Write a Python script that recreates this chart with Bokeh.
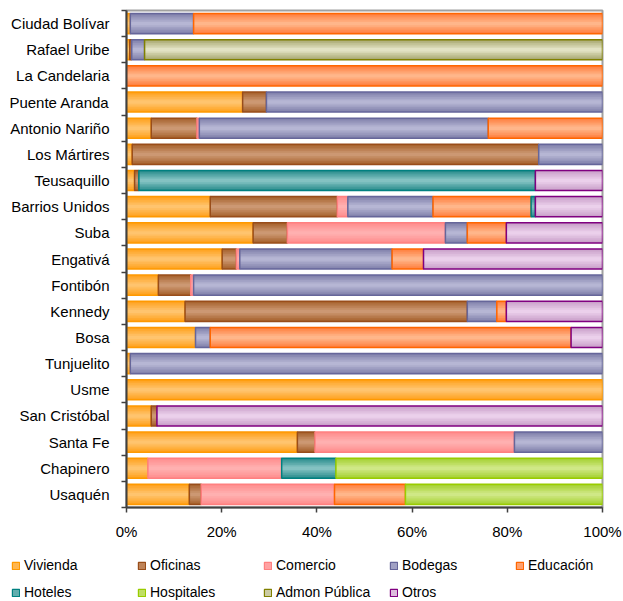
from bokeh.plotting import figure
from bokeh.models import ColumnDataSource, Range1d, FixedTicker, Legend, LegendItem
from bokeh.layouts import column
from bokeh.embed import file_html
from bokeh.resources import INLINE

# ---------------- data (percent of each locality) ----------------
categories = ["Ciudad Bolívar", "Rafael Uribe", "La Candelaria", "Puente Aranda",
              "Antonio Nariño", "Los Mártires", "Teusaquillo", "Barrios Unidos",
              "Suba", "Engativá", "Fontibón", "Kennedy", "Bosa", "Tunjuelito",
              "Usme", "San Cristóbal", "Santa Fe", "Chapinero", "Usaquén"]

vivienda     = [0.8, 0.7, 0, 24.4, 5.2, 1.2, 1.7, 17.6, 26.6, 20.1, 6.7, 12.3, 14.5, 0.8, 100, 5.2, 35.9, 4.5, 13.2]
oficinas     = [0, 0.4, 0, 5.0, 9.6, 85.4, 0.9, 26.7, 7.2, 3.0, 6.8, 59.3, 0, 0, 0, 1.2, 3.7, 0, 2.5]
comercio     = [0, 0, 0, 0, 0.5, 0, 0, 2.2, 33.2, 0.7, 0.6, 0, 0, 0, 0, 0, 41.9, 28.1, 28.0]
bodegas      = [13.3, 2.7, 0, 70.6, 60.7, 13.4, 0, 17.9, 4.6, 32.0, 85.9, 6.2, 3.1, 99.2, 0, 0, 18.5, 0, 0]
educacion    = [85.9, 0, 100, 0, 24.0, 0, 0, 20.6, 8.2, 6.6, 0, 2.0, 75.8, 0, 0, 0, 0, 0, 14.9]
hoteles      = [0, 0, 0, 0, 0, 0, 83.3, 0.9, 0, 0, 0, 0, 0, 0, 0, 0, 0, 11.4, 0]
hospitales   = [0, 0, 0, 0, 0, 0, 0, 0, 0, 0, 0, 0, 0, 0, 0, 0, 0, 56.0, 41.4]
admon_publica = [0, 96.2, 0, 0, 0, 0, 0, 0, 0, 0, 0, 0, 0, 0, 0, 0, 0, 0, 0]
otros        = [0, 0, 0, 0, 0, 0, 14.1, 14.1, 20.2, 37.6, 0, 20.2, 6.6, 0, 0, 93.6, 0, 0, 0]

series_names = ["Vivienda", "Oficinas", "Comercio", "Bodegas", "Educación",
                "Hoteles", "Hospitales", "Admon Pública", "Otros"]
series_values = [vivienda, oficinas, comercio, bodegas, educacion,
                 hoteles, hospitales, admon_publica, otros]

tick_values = [0, 20, 40, 60, 80, 100]
tick_labels = ["0%", "20%", "40%", "60%", "80%", "100%"]

# ---------------- styles ----------------
# (border, edge fill, centre fill)
styles = [
    ("#FF9900", "#FFA21F", "#FFC46E"),
    ("#994D1A", "#A8642F", "#CC9873"),
    ("#FF8080", "#FF8E8E", "#FFB0B0"),
    ("#66669A", "#8282AC", "#B6B6D4"),
    ("#FF6600", "#FF8040", "#FFB68A"),
    ("#008080", "#2C8E8E", "#84C2C2"),
    ("#99CC00", "#A6D133", "#CFE886"),
    ("#808000", "#A9A972", "#E2E2C4"),
    ("#800080", "#C9A0C9", "#EBD0EB"),
]

def mix(c1, c2, t):
    a = [int(c1[i:i + 2], 16) for i in (1, 3, 5)]
    b = [int(c2[i:i + 2], 16) for i in (1, 3, 5)]
    return "#%02x%02x%02x" % tuple(round(a[k] + (b[k] - a[k]) * t) for k in range(3))

FONT = "Liberation Sans"
BAR_H = 0.77
n = len(categories)
ypos = [n - 1 - i for i in range(n)]

p = figure(width=623, height=556, output_backend="svg", toolbar_location=None,
           x_range=Range1d(0, 100), y_range=Range1d(-0.5, n - 0.5),
           min_border_left=126, min_border_right=21, min_border_top=10,
           min_border_bottom=49)
p.frame_align = False
p.grid.visible = False
p.outline_line_color = "#A0A0A0"
p.outline_line_width = 2

# legend strip (its own small figure so the legend can span the full width)
lg = figure(width=623, height=45, output_backend="svg", toolbar_location=None,
            x_range=Range1d(0, 100), y_range=Range1d(-0.5, n - 0.5),
            x_axis_location=None, y_axis_location=None, min_border=0)
lg.frame_align = False
lg.grid.visible = False
lg.outline_line_color = None

left_acc = [0.0] * n
items = []
for name, vals, (border, edge, centre) in zip(series_names, series_values, styles):
    ys, ls, rs = [], [], []
    for i, v in enumerate(vals):
        if v > 0:
            ys.append(ypos[i]); ls.append(left_acc[i]); rs.append(left_acc[i] + v)
        left_acc[i] += v
    src = ColumnDataSource(dict(y=ys, left=ls, right=rs))
    levels = 6
    for k in range(levels):
        h = BAR_H * (1 - k / levels)
        col = mix(edge, centre, k / (levels - 1))
        p.hbar(y="y", left="left", right="right", height=h, source=src,
               fill_color=col, line_color=None)
    p.hbar(y="y", left="left", right="right", height=BAR_H, source=src,
           fill_color=None, line_color=border, line_width=1.5)
    # legend key renderers (not drawn in the strip, only used as legend glyphs)
    lf = lg.hbar(y="y", left="left", right="right", height=BAR_H, source=src,
                 fill_color=mix(edge, centre, 0.6), line_color=border, line_width=1.2,
                 visible=False)
    items.append(LegendItem(label=name, renderers=[lf]))

# x axis
xa = p.xaxis[0]
xa.ticker = FixedTicker(ticks=tick_values, minor_ticks=[])
xa.major_label_overrides = {v: l for v, l in zip(tick_values, tick_labels)}
xa.major_label_text_font = FONT
xa.major_label_text_font_size = "15px"
xa.major_label_text_color = "black"
xa.major_tick_out = 5
xa.major_tick_in = 0
xa.major_label_standoff = 10
xa.axis_line_color = "#404040"
xa.axis_line_width = 2
xa.major_tick_line_color = "#404040"
xa.major_tick_line_width = 1.5

# y axis
ya = p.yaxis[0]
ya.ticker = FixedTicker(ticks=ypos, minor_ticks=[y - 0.5 for y in range(n + 1)])
ya.major_label_overrides = {ypos[i]: categories[i] for i in range(n)}
ya.major_label_text_font = FONT
ya.major_label_text_font_size = "15px"
ya.major_label_text_color = "black"
ya.major_tick_out = 0
ya.major_tick_in = 0
ya.minor_tick_out = 5
ya.minor_tick_in = 0
ya.minor_tick_line_color = "#404040"
ya.minor_tick_line_width = 1.5
ya.major_label_standoff = 12
ya.axis_line_color = "#404040"
ya.axis_line_width = 2

legend = Legend(items=items, location=(11, 0),
                orientation="horizontal", ncols=5,
                glyph_width=9, glyph_height=9, label_height=18, label_width=104,
                label_standoff=4, spacing=9, padding=0, margin=0,
                border_line_color=None, background_fill_alpha=0,
                inactive_fill_alpha=0,
                label_text_font=FONT, label_text_font_size="14px",
                label_text_color="black")
lg.add_layout(legend, "center")

layout = column(p, lg, spacing=0)
open("out.html", "w").write(file_html(layout, INLINE))
